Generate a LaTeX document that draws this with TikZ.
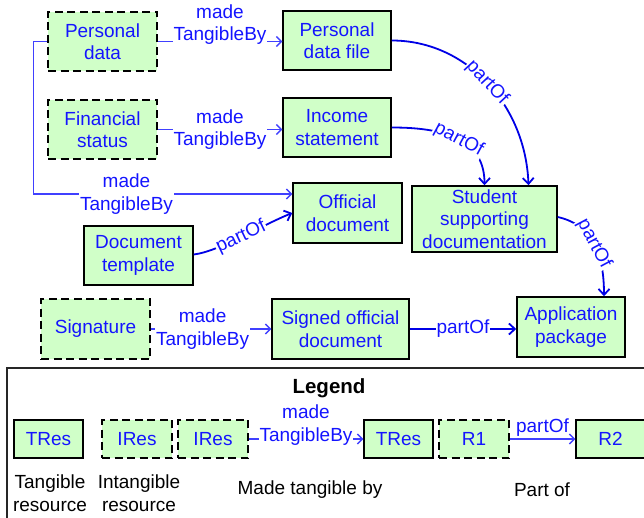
\documentclass[tikz,border=0pt]{standalone}
\usepackage{fontspec}
\setmainfont{Liberation Sans}
\usetikzlibrary{arrows.meta,calc}
\definecolor{boxfill}{RGB}{208,255,200}
\definecolor{txtblue}{RGB}{20,20,255}
\definecolor{mtblue}{RGB}{64,64,255}
\definecolor{poblue}{RGB}{0,0,230}
\begin{document}
\begin{tikzpicture}[x=1pt,y=-1pt,
  res/.style={draw=black, line width=1.5pt, fill=boxfill, text=txtblue, align=center,
    font=\fontsize{19}{22.5}\selectfont, inner sep=0pt},
  tres/.style={res},
  ires/.style={res, dash pattern=on 8pt off 4.5pt},
  sz/.style 2 args={minimum width=#1pt, minimum height=#2pt},
  mt/.style={draw=mtblue, line width=1.3pt, -{Straight Barb[length=5pt,width=10pt]}},
  po/.style={draw=poblue, line width=1.8pt, -{Straight Barb[length=6pt,width=11pt]}},
  lab/.style={text=txtblue, fill=white, inner sep=1pt, align=center,
    font=\fontsize{19}{22.5}\selectfont},
  txt/.style={text=black, align=center, inner sep=0pt, font=\fontsize{19}{22.5}\selectfont},
]
\useasboundingbox (0,0) rectangle (644,518);
\clip (0,0) rectangle (644,518);

% main nodes
\node[ires, sz={109}{59}] (pd)  at (102.5,41.5) {Personal\\data};
\node[ires, sz={109}{59}] (fs)  at (102.5,129.5) {Financial\\status};
\node[tres, sz={108}{59}] (pdf) at (337,40.5) {Personal\\data file};
\node[tres, sz={108}{59}] (is)  at (337,127.5) {Income\\statement};
\node[tres, sz={109}{60}] (od)  at (347.5,213) {Official\\document};
\node[tres, sz={109}{59}] (dt)  at (138.5,255.5) {Document\\template};
\node[tres, sz={145}{66}] (ssd) at (484.5,219) {Student\\supporting\\documentation};
\node[ires, sz={109}{60}] (sig) at (95.5,329) {Signature};
\node[tres, sz={137}{60}] (sod) at (340.5,329) {Signed official\\document};
\node[tres, sz={108}{60}] (ap)  at (571,327) {Application\\package};

% made tangible by
\draw[mt] (pd.east) -- node[lab, yshift=17pt]{made\\TangibleBy} (pd.east -| pdf.west);
\draw[mt] (fs.east) -- node[lab]{made\\TangibleBy} (fs.east -| is.west);
\draw[mt] (pd.west) -- ++(-14,0) |- node[lab, pos=0.68]{made\\TangibleBy} ([yshift=19pt]od.west);
\draw[mt] (sig.east) -- node[lab, pos=0.43]{made\\TangibleBy} (sig.east -| sod.west);

% part of
\draw[po] (pdf.east) .. controls +(75,0) and +(-3,-80) .. node[lab, sloped]{partOf} ([xshift=44pt]ssd.north);
\draw[po] (is.east) .. controls +(55,0) and +(0,-45) .. node[lab, sloped]{partOf} (ssd.north);
\draw[po] ([yshift=2pt]ssd.east) .. controls +(35,8) and +(0,-42) .. node[lab, sloped]{partOf} ([xshift=33pt]ap.north);
\draw[po] ([yshift=1pt]dt.east) .. controls +(25,-3) and +(-30,12) .. node[lab, sloped]{partOf} (od.west);
\draw[po] (sod.east) -- node[lab]{partOf} (sod.east -| ap.west);

% legend
\draw[line width=1.2pt, draw=black!85] (7,368) rectangle (700,560);
\node[txt, font=\fontsize{20.5}{24}\selectfont\bfseries] (lg) at (329,388) {Legend};
\node[tres, sz={69}{38}] (l1) at (48.5,439) {TRes};
\node[ires, sz={70}{38}] (l2) at (137,439) {IRes};
\node[ires, sz={70}{38}] (l3) at (213,439) {IRes};
\node[tres, sz={69}{38}] (l4) at (398.5,439) {TRes};
\node[ires, sz={70}{38}] (l5) at (474,439) {R1};
\node[tres, sz={69}{38}] (l6) at (610.5,439) {R2};
\draw[mt] (l3.east) -- node[lab, yshift=14pt]{made\\TangibleBy} (l4.west);
\draw[mt] (l5.east) -- node[lab, fill=none, above=2pt, inner sep=0pt]{partOf} (l6.west);
\node[txt] (t1) at (50,493) {Tangible\\resource};
\node[txt] (t2) at (139,493) {Intangible\\resource};
\node[txt] (t3) at (310,490) {Made tangible by};
\node[txt] (t4) at (542,490) {Part of};
\end{tikzpicture}
\end{document}
